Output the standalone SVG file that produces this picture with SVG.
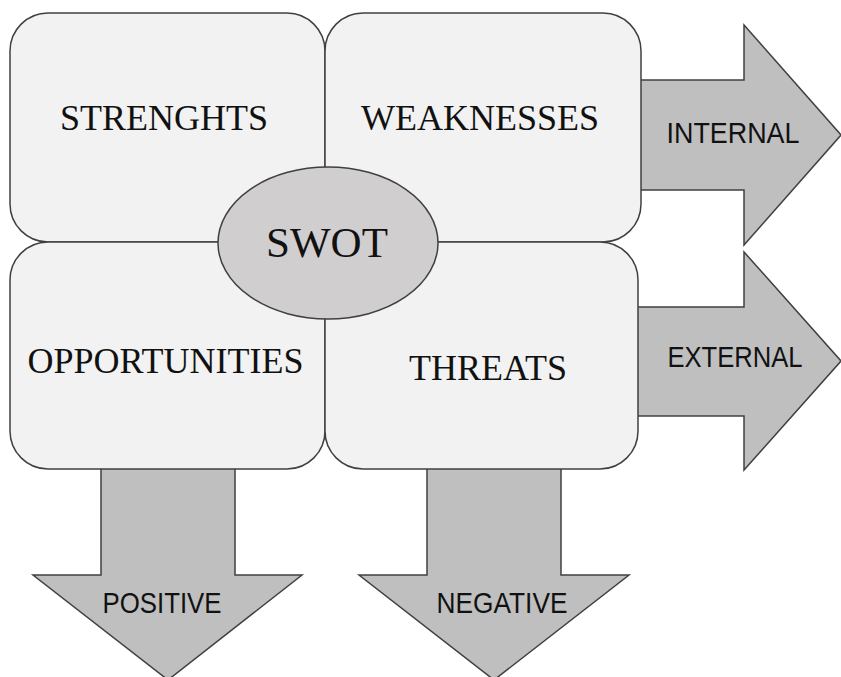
<svg xmlns="http://www.w3.org/2000/svg" width="841" height="677" viewBox="0 0 841 677">
  <style>
    .arrow { fill: #bfbfbf; stroke: #404040; stroke-width: 1.5; stroke-linejoin: miter; }
    .box { fill: #f2f2f2; stroke: #404040; stroke-width: 1.5; }
    .hub { fill: #d0cece; stroke: #404040; stroke-width: 1.5; }
    .serif { font-family: "Liberation Serif", "Times New Roman", serif; font-size: 36px; fill: #111; text-anchor: middle; }
    .sans { font-family: "Liberation Sans", Arial, sans-serif; font-size: 29px; fill: #111; text-anchor: middle; }
  </style>

  <!-- block arrows sit behind the quadrants -->
  <g id="connectors">
    <g id="arrow-internal">
      <path class="arrow" d="M630,80 H744 V25 L841,135 L744,245 V190 H630 Z"/>
      <text class="sans" x="733" y="143" textLength="133" lengthAdjust="spacingAndGlyphs">INTERNAL</text>
    </g>
    <g id="arrow-external">
      <path class="arrow" d="M630,307 H744 V252 L841,361 L744,470 V416 H630 Z"/>
      <text class="sans" x="735" y="367" textLength="135" lengthAdjust="spacingAndGlyphs">EXTERNAL</text>
    </g>
    <g id="arrow-positive">
      <path class="arrow" d="M101,460 V575 H33 L168,680 L302,575 H235 V460 Z"/>
      <text class="sans" x="162" y="613" textLength="119" lengthAdjust="spacingAndGlyphs">POSITIVE</text>
    </g>
    <g id="arrow-negative">
      <path class="arrow" d="M427,460 V575 H359 L494,680 L629,575 H561 V460 Z"/>
      <text class="sans" x="502" y="613" textLength="131" lengthAdjust="spacingAndGlyphs">NEGATIVE</text>
    </g>
  </g>

  <!-- four quadrants -->
  <g id="strengths">
    <rect class="box" x="10" y="13" width="315" height="229" rx="38" ry="38"/>
    <text class="serif" x="164" y="130">STRENGHTS</text>
  </g>
  <g id="weaknesses">
    <rect class="box" x="325" y="13" width="316" height="229" rx="38" ry="38"/>
    <text class="serif" x="480" y="130">WEAKNESSES</text>
  </g>
  <g id="opportunities">
    <rect class="box" x="10" y="242" width="315" height="227" rx="38" ry="38"/>
    <text class="serif" x="165.5" y="373">OPPORTUNITIES</text>
  </g>
  <g id="threats">
    <rect class="box" x="325" y="242" width="313" height="227" rx="38" ry="38"/>
    <text class="serif" x="488" y="380">THREATS</text>
  </g>

  <!-- central hub -->
  <g id="swot">
    <ellipse class="hub" cx="328" cy="243" rx="110" ry="76"/>
    <text class="serif" x="327" y="257" style="font-size:43px">SWOT</text>
  </g>
</svg>
